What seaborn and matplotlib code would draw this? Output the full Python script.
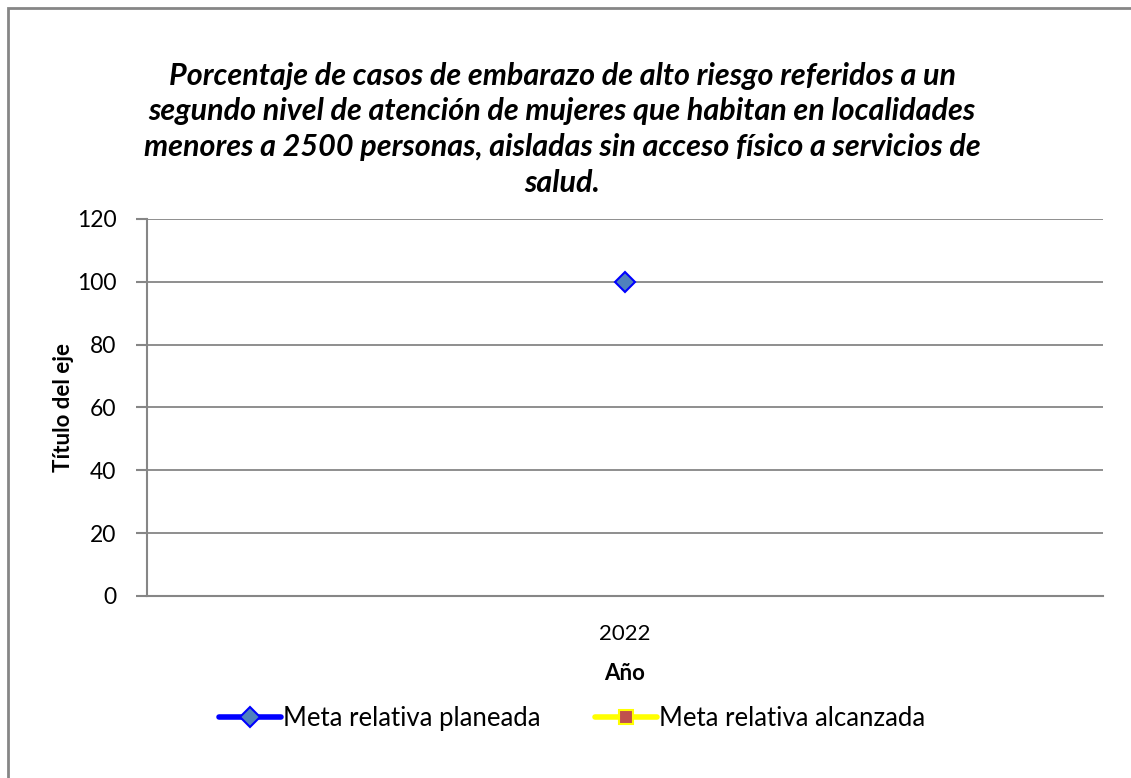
import numpy as np
import pandas as pd
import matplotlib
matplotlib.use("Agg")
import matplotlib.pyplot as plt
import seaborn as sns
from matplotlib.lines import Line2D
from matplotlib.patches import Rectangle

# datos
years = ["2022"]
meta_planeada = [100]
meta_alcanzada = [np.nan]
y_ticks = [0, 20, 40, 60, 80, 100, 120]

titulo = ("Porcentaje de casos de embarazo de alto riesgo referidos a un\n"
          "segundo nivel de atención de mujeres que habitan en localidades\n"
          "menores a 2500 personas, aisladas sin acceso físico a servicios de\n"
          "salud.")

df = pd.DataFrame({"Año": years, "planeada": meta_planeada, "alcanzada": meta_alcanzada})

sns.set_theme(style="white")
plt.rcParams["font.family"] = ["Lato", "DejaVu Sans"]
plt.rcParams["text.color"] = "black"
plt.rcParams["axes.labelcolor"] = "black"
plt.rcParams["xtick.labelcolor"] = "black"
plt.rcParams["ytick.labelcolor"] = "black"

fig = plt.figure(figsize=(11.31, 7.78), dpi=100)
ax = fig.add_axes([0.130, 0.234, 0.845, 0.4846])

grid_c = "#868686"

# serie planeada
sns.lineplot(data=df, x="Año", y="planeada", ax=ax, color="#0000FF", lw=3,
             marker="D", markersize=10, markerfacecolor="#4F81BD",
             markeredgecolor="#0000FF", markeredgewidth=1.5, legend=False, zorder=5)
# serie alcanzada (sin datos)
ax.plot(df["Año"], df["alcanzada"], color="#FFFF00", lw=3, marker="s")

ax.set_xlim(-0.5, 0.5)
ax.set_ylim(0, 120)
ax.set_yticks(y_ticks)
ax.set_yticklabels([str(v) for v in y_ticks], fontsize=16.5)
ax.tick_params(axis="x", labelsize=16, length=0, pad=20)
ax.tick_params(axis="y", length=8, width=1.5, color=grid_c, direction="out", left=True, pad=14)
ax.yaxis.grid(True, color=grid_c, lw=1.3)
ax.set_axisbelow(True)
for s in ["top", "right"]:
    ax.spines[s].set_visible(False)
for s in ["left", "bottom"]:
    ax.spines[s].set_color(grid_c)
    ax.spines[s].set_linewidth(1.5)

ax.set_xlabel("Año", fontsize=16, fontweight="bold", labelpad=14)
ax.set_ylabel("Título del eje", fontsize=16, fontweight="bold", labelpad=2)

fig.text(0.497, 0.834, titulo, ha="center", va="center", fontsize=22,
         fontweight="bold", fontstyle="italic", linespacing=1.33)

handles = [
    Line2D([0], [0], color="#0000FF", lw=4, marker="D", markersize=10,
           markerfacecolor="#4F81BD", markeredgecolor="#0000FF", markeredgewidth=1.5),
    Line2D([0], [0], color="#FFFF00", lw=4, marker="s", markersize=10,
           markerfacecolor="#C0504D", markeredgecolor="#FFFF00", markeredgewidth=1.5),
]
fig.legend(handles, ["Meta relativa planeada", "Meta relativa alcanzada"],
           loc="center", bbox_to_anchor=(0.506, 0.077), ncol=2, frameon=False,
           fontsize=18.5, handlelength=2.4, handletextpad=0.1, columnspacing=2.1)

# marco del gráfico
fig.patches.append(Rectangle((8 / 1131, -0.05), 1.2, 1 - 8 / 778 + 0.05,
                             transform=fig.transFigure, fill=False,
                             edgecolor=grid_c, lw=2))

fig.savefig("out.png", dpi=100)
